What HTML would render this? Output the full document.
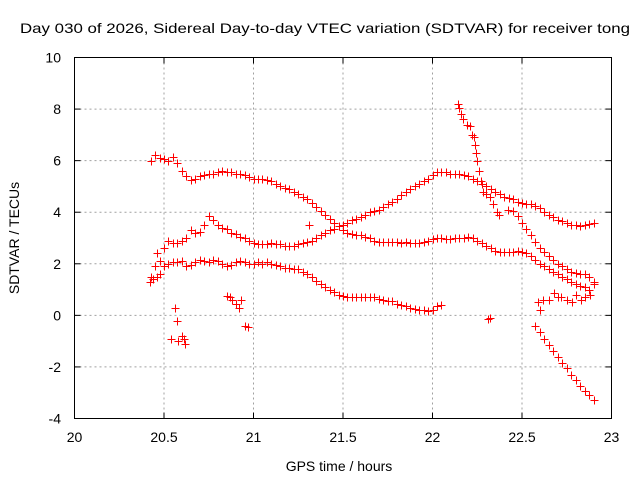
<!DOCTYPE html>
<html><head><meta charset="utf-8"><style>
html,body{margin:0;padding:0;background:#fff}
svg{display:block;font-family:"Liberation Sans",sans-serif}
</style></head><body>
<svg id="chart" width="640" height="480" viewBox="0 0 640 480" xmlns="http://www.w3.org/2000/svg">
<rect x="0" y="0" width="640" height="480" fill="#fff"/>
<text x="325" y="33" text-anchor="middle" font-size="14" textLength="610" lengthAdjust="spacingAndGlyphs">Day 030 of 2026, Sidereal Day-to-day VTEC variation (SDTVAR) for receiver tong</text>
<g id="grid"></g>
<g id="ticks"></g>
<g id="marks"></g>
<rect x="74.5" y="57.5" width="537" height="361" fill="none" stroke="#000" stroke-width="1"/>
<text x="339" y="471" text-anchor="middle" font-size="14">GPS time / hours</text>
<text transform="translate(19,238) rotate(-90)" text-anchor="middle" font-size="14">SDTVAR / TECUs</text>
</svg>
<script>
const xTicks = [20, 20.5, 21, 21.5, 22, 22.5, 23];
const xTickLabels = ["20", "20.5", "21", "21.5", "22", "22.5", "23"];
const yTicks = [-4, -2, 0, 2, 4, 6, 8, 10];
const yTickLabels = ["-4", "-2", "0", "2", "4", "6", "8", "10"];

const seriesAx = [20.425,20.45,20.475,20.5,20.525,20.55,20.575,20.6,20.625,20.65,20.675,20.7,20.725,20.75,20.775,20.8,20.825,20.85,20.875,20.9,20.925,20.95,20.975,21.0,21.025,21.05,21.075,21.1,21.125,21.15,21.175,21.2,21.225,21.25,21.275,21.3,21.325,21.35,21.375,21.4,21.425,21.45,21.475,21.5,21.525,21.55,21.575,21.6,21.625,21.65,21.675,21.7,21.725,21.75,21.775,21.8,21.825,21.85,21.875,21.9,21.925,21.95,21.975,22.0,22.025,22.05,22.075,22.1,22.125,22.15,22.175,22.2,22.225,22.25,22.275,22.3,22.325,22.35,22.375,22.4,22.425,22.45,22.475,22.5,22.525,22.55,22.575,22.6,22.625,22.65,22.675,22.7,22.725,22.75,22.775,22.8,22.825,22.85,22.875,22.9];
const seriesAy = [6.0,6.2,6.1,6.05,6.0,6.15,5.9,5.6,5.4,5.25,5.3,5.4,5.45,5.5,5.5,5.55,5.6,5.55,5.55,5.5,5.5,5.45,5.35,5.3,5.3,5.3,5.25,5.2,5.1,5.0,4.95,4.9,4.8,4.7,4.6,4.5,4.35,4.2,4.05,3.9,3.75,3.6,3.45,3.3,3.2,3.15,3.1,3.1,3.05,3.0,2.9,2.85,2.85,2.85,2.85,2.85,2.8,2.85,2.8,2.8,2.8,2.85,2.9,2.95,3.0,3.0,2.95,2.95,3.0,3.0,3.0,3.05,3.0,2.9,2.8,2.7,2.6,2.5,2.45,2.45,2.45,2.45,2.5,2.45,2.4,2.3,2.15,2.0,1.9,1.8,1.7,1.6,1.5,1.4,1.3,1.2,1.15,1.1,1.0,1.2];

const seriesBx = [20.425,20.45,20.46,20.475,20.5,20.525,20.55,20.575,20.6,20.625,20.65,20.675,20.7,20.725,20.75,20.775,20.8,20.825,20.85,20.875,20.9,20.925,20.95,20.975,21.0,21.025,21.05,21.075,21.1,21.125,21.15,21.175,21.2,21.225,21.25,21.275,21.3,21.325,21.35,21.375,21.4,21.425,21.45,21.475,21.5,21.525,21.55,21.575,21.6,21.625,21.65,21.675,21.7,21.725,21.75,21.775,21.8,21.825,21.85,21.875,21.9,21.925,21.95,21.975,22.0,22.025,22.05,22.075,22.1,22.125,22.15,22.175,22.2,22.225,22.25,22.275,22.3,22.325,22.35,22.375,22.4,22.425,22.45,22.475,22.5,22.525,22.55,22.575,22.6,22.625,22.65,22.675,22.7,22.725,22.75,22.775,22.8,22.825,22.85,22.875,22.9];
const seriesBy = [1.5,1.9,2.4,2.1,2.6,2.9,2.8,2.8,2.9,3.0,3.3,3.2,3.25,3.5,3.85,3.7,3.5,3.4,3.35,3.2,3.15,3.05,3.0,2.9,2.8,2.75,2.75,2.75,2.8,2.75,2.75,2.7,2.7,2.7,2.75,2.8,2.85,2.9,3.0,3.1,3.2,3.3,3.35,3.45,3.5,3.6,3.7,3.75,3.8,3.9,4.0,4.05,4.1,4.2,4.3,4.4,4.5,4.65,4.8,4.9,5.0,5.1,5.2,5.3,5.45,5.55,5.55,5.55,5.5,5.5,5.5,5.45,5.4,5.3,5.2,5.1,5.0,4.9,4.8,4.7,4.6,4.55,4.5,4.4,4.35,4.3,4.3,4.25,4.15,4.0,3.9,3.8,3.7,3.65,3.6,3.5,3.5,3.45,3.5,3.55,3.6];

const seriesCx = [20.42,20.44,20.46,20.475,20.5,20.525,20.55,20.575,20.6,20.625,20.65,20.675,20.7,20.725,20.75,20.775,20.8,20.825,20.85,20.875,20.9,20.925,20.95,20.975,21.0,21.025,21.05,21.075,21.1,21.125,21.15,21.175,21.2,21.225,21.25,21.275,21.3,21.325,21.35,21.375,21.4,21.425,21.45,21.475,21.5,21.525,21.55,21.575,21.6,21.625,21.65,21.675,21.7,21.725,21.75,21.775,21.8,21.825,21.85,21.875,21.9,21.925,21.95,21.975,22.0,22.025,22.05];
const seriesCy = [1.3,1.4,1.5,1.6,1.9,2.0,2.05,2.05,2.1,1.9,1.95,2.05,2.15,2.1,2.05,2.15,2.1,2.0,1.9,1.95,2.05,2.1,2.05,2.0,2.0,2.05,2.0,2.05,2.0,1.95,1.9,1.85,1.85,1.8,1.8,1.7,1.6,1.5,1.35,1.2,1.1,1.0,0.9,0.8,0.75,0.7,0.7,0.7,0.7,0.7,0.7,0.7,0.65,0.6,0.55,0.55,0.45,0.4,0.35,0.3,0.25,0.2,0.2,0.15,0.2,0.35,0.4];

const seriesDx = [22.14,22.15,22.16,22.17,22.19,22.21,22.22,22.23,22.24,22.245,22.25,22.26,22.27,22.28,22.3,22.32,22.34,22.36,22.37,22.42,22.45,22.475,22.5,22.525,22.55,22.575,22.6,22.625,22.65,22.675,22.7,22.725,22.75,22.775,22.8,22.825,22.85,22.875,22.9];
const seriesDy = [8.2,8.05,7.8,7.6,7.4,7.35,7.0,6.9,6.6,6.3,6.0,5.6,5.2,4.8,4.7,4.6,4.3,4.0,3.9,4.1,4.05,3.85,3.6,3.35,3.1,2.85,2.6,2.45,2.3,2.15,2.0,1.9,1.8,1.7,1.65,1.6,1.6,1.5,1.3];

const seriesEx = [22.57,22.6,22.625,22.65,22.675,22.7,22.725,22.75,22.775,22.8,22.825,22.85,22.875,22.9];
const seriesEy = [-0.4,-0.65,-0.9,-1.15,-1.4,-1.6,-1.85,-2.05,-2.3,-2.5,-2.75,-2.95,-3.1,-3.3];

const scatterX = [20.54,20.56,20.57,20.58,20.6,20.61,20.62,20.85,20.87,20.88,20.9,20.92,20.93,20.95,20.97,21.31,22.31,22.32,22.59,22.6,22.62,22.65,22.68,22.7,22.72,22.75,22.78,22.8,22.83,22.85,22.88];
const scatterY = [-0.9,0.3,-0.2,-1.0,-0.8,-0.9,-1.1,0.75,0.7,0.6,0.45,0.3,0.6,-0.4,-0.45,3.5,-0.15,-0.1,0.5,0.2,0.6,0.6,0.85,0.7,0.7,0.6,0.5,0.8,0.6,0.7,0.8];

const L = 74.5, R = 611.5, T = 57.5, B = 418.5;
const xMin = 20, xMax = 23, yMin = -4, yMax = 10;
function sx(v){ return L + (v - xMin) / (xMax - xMin) * (R - L); }
function sy(v){ return B - (v - yMin) / (yMax - yMin) * (B - T); }
const NS = "http://www.w3.org/2000/svg";
function mk(tag, attrs, parent){
  const e = document.createElementNS(NS, tag);
  for (const k in attrs) e.setAttribute(k, attrs[k]);
  parent.appendChild(e);
  return e;
}
const grid = document.getElementById('grid');
const ticks = document.getElementById('ticks');
const marks = document.getElementById('marks');

xTicks.forEach((t, i) => {
  const x = sx(t);
  if (i > 0 && i < xTicks.length - 1) {
    const g = mk('line', {x1:x, y1:T, x2:x, y2:B, stroke:'#a0a0a0', 'stroke-dasharray':'2,3'}, grid);
    
    
  }
  const a = mk('line', {x1:x, y1:B, x2:x, y2:B-6, stroke:'#000'}, ticks);
  
  
  const b = mk('line', {x1:x, y1:T, x2:x, y2:T+6, stroke:'#000'}, ticks);
  
  
  const tx = mk('text', {x:x, y:442, 'text-anchor':'middle', 'font-size':'14'}, ticks);
  tx.textContent = xTickLabels[i];
  
  
});
yTicks.forEach((t, i) => {
  const y = sy(t);
  if (i > 0 && i < yTicks.length - 1) {
    const g = mk('line', {x1:L, y1:y, x2:R, y2:y, stroke:'#a0a0a0', 'stroke-dasharray':'2,3'}, grid);
    
    
  }
  const a = mk('line', {x1:L, y1:y, x2:L+6, y2:y, stroke:'#000'}, ticks);
  
  
  const b = mk('line', {x1:R, y1:y, x2:R-6, y2:y, stroke:'#000'}, ticks);
  
  
  const tx = mk('text', {x:61, y:y+5, 'text-anchor':'end', 'font-size':'14'}, ticks);
  tx.textContent = yTickLabels[i];
  
  
});

function plotSeries(xs, ys, name){
  const g = mk('g', {stroke:'#ff0000', 'stroke-width':'1', fill:'none'}, marks);
  
  
  for (let i = 0; i < xs.length; i++) {
    const x = Math.round(sx(xs[i])) + 0.5, y = Math.round(sy(ys[i])) + 0.5;
    const p = mk('path', {d:'M'+(x-4)+' '+y+'H'+(x+4)+'M'+x+' '+(y-4)+'V'+(y+4)}, g);
    
    
  }
}
plotSeries(seriesAx, seriesAy, 'series-a');
plotSeries(seriesBx, seriesBy, 'series-b');
plotSeries(seriesCx, seriesCy, 'series-c');
plotSeries(seriesDx, seriesDy, 'series-d');
plotSeries(seriesEx, seriesEy, 'series-e');
plotSeries(scatterX, scatterY, 'scatter-points');
</script>
</body></html>
